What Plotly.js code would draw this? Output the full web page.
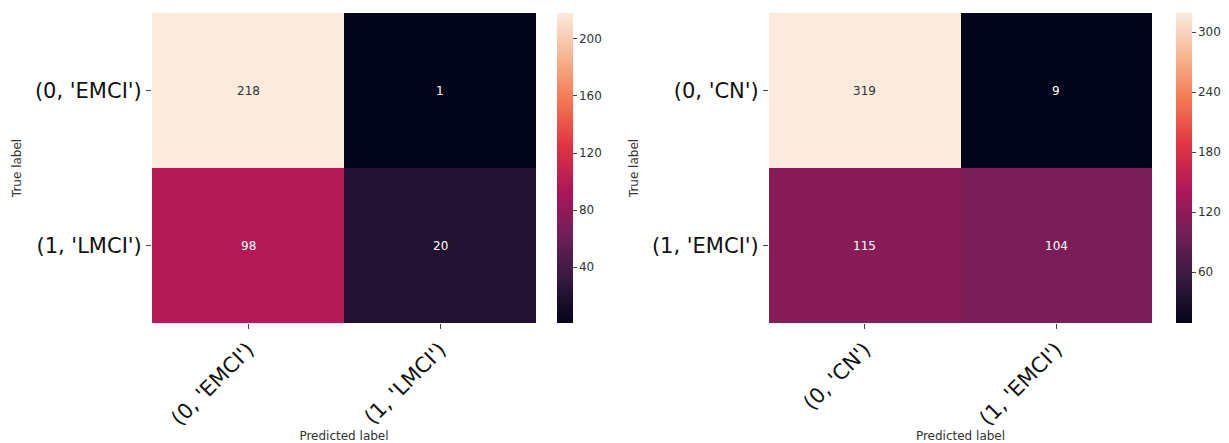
<!DOCTYPE html>
<html>
<head>
<meta charset="utf-8">
<script src="https://cdn.plot.ly/plotly-3.0.1.min.js"></script>
<style>html,body{margin:0;padding:0;background:#fff;}#chart{width:1229px;height:443px;}</style>
</head>
<body>
<div id="chart"></div>
<script>
// Left confusion matrix
const leftLabels = ["(0, 'EMCI')", "(1, 'LMCI')"];
const leftValues = [[218, 1], [98, 20]];
const leftCbTicks = [40, 80, 120, 160, 200];

// Right confusion matrix
const rightLabels = ["(0, 'CN')", "(1, 'EMCI')"];
const rightValues = [[319, 9], [115, 104]];
const rightCbTicks = [60, 120, 180, 240, 300];

const xTitle = "Predicted label";
const yTitle = "True label";

// seaborn "rocket" approximation
const rocket = [
  [0.0, '#03051a'],
  [0.1429, '#35193e'],
  [0.2857, '#701f57'],
  [0.4286, '#ad1759'],
  [0.5714, '#e13342'],
  [0.7143, '#f37651'],
  [0.8571, '#f6b48f'],
  [1.0, '#faebdd']
];

const W = 1229, H = 443;
const yTop = 13, yBot = 323;
const ydom = [1 - yBot / H, 1 - yTop / H];
const cbY = 1 - ((yTop + yBot) / 2) / H;

function heat(labels, vals, xa, ya, cbx, ticks) {
  const flat = vals.flat();
  return {
    type: 'heatmap',
    x: labels, y: labels, z: vals,
    xaxis: xa, yaxis: ya,
    colorscale: rocket,
    zmin: Math.min(...flat), zmax: Math.max(...flat),
    xgap: 0, ygap: 0,
    hoverinfo: 'skip',
    colorbar: {
      x: cbx / W, xanchor: 'left', xref: 'paper',
      y: cbY, yanchor: 'middle',
      len: yBot - yTop, lenmode: 'pixels',
      thickness: 16, thicknessmode: 'pixels',
      outlinewidth: 0,
      tickvals: ticks,
      ticks: 'outside', ticklen: 4, tickcolor: '#444',
      tickfont: {family: 'DejaVu Sans', size: 12, color: '#333'},
      xpad: 0, ypad: 0
    }
  };
}

function annots(labels, vals, xa, ya) {
  const flat = vals.flat();
  const mn = Math.min(...flat), mx = Math.max(...flat);
  const out = [];
  vals.forEach((row, i) => row.forEach((v, j) => {
    const t = (v - mn) / (mx - mn);
    out.push({
      x: labels[j], y: labels[i], xref: xa, yref: ya,
      text: String(v), showarrow: false,
      font: {family: 'DejaVu Sans', size: 12, color: t > 0.6 ? '#333333' : '#ffffff'}
    });
  }));
  return out;
}

const axisX = (dom, anchor) => ({
  domain: dom, anchor: anchor, type: 'category',
  tickangle: -45, ticks: 'outside', ticklen: 5, tickcolor: '#444',
  tickfont: {family: 'DejaVu Sans', size: 21, color: '#111'},
  showgrid: false, zeroline: false, showline: false,
  title: {text: xTitle, font: {family: 'DejaVu Sans', size: 12, color: '#333'}, standoff: 2}
});
const axisY = (anchor) => ({
  domain: ydom, anchor: anchor, type: 'category', autorange: 'reversed',
  ticks: 'outside', ticklen: 5, tickcolor: '#444',
  tickfont: {family: 'DejaVu Sans', size: 21, color: '#111'},
  showgrid: false, zeroline: false, showline: false,
  title: {text: yTitle, font: {family: 'DejaVu Sans', size: 12, color: '#333'}, standoff: 10}
});

const data = [
  heat(leftLabels, leftValues, 'x', 'y', 557, leftCbTicks),
  heat(rightLabels, rightValues, 'x2', 'y2', 1176, rightCbTicks)
];

const layout = {
  width: W, height: H,
  margin: {l: 0, r: 0, t: 0, b: 0},
  paper_bgcolor: '#fff', plot_bgcolor: '#fff',
  showlegend: false,
  xaxis: axisX([152 / W, 536 / W], 'y'),
  yaxis: axisY('x'),
  xaxis2: axisX([769 / W, 1152 / W], 'y2'),
  yaxis2: axisY('x2'),
  annotations: annots(leftLabels, leftValues, 'x', 'y').concat(annots(rightLabels, rightValues, 'x2', 'y2'))
};

Plotly.newPlot('chart', data, layout, {displayModeBar: false, staticPlot: true});
</script>
</body>
</html>
